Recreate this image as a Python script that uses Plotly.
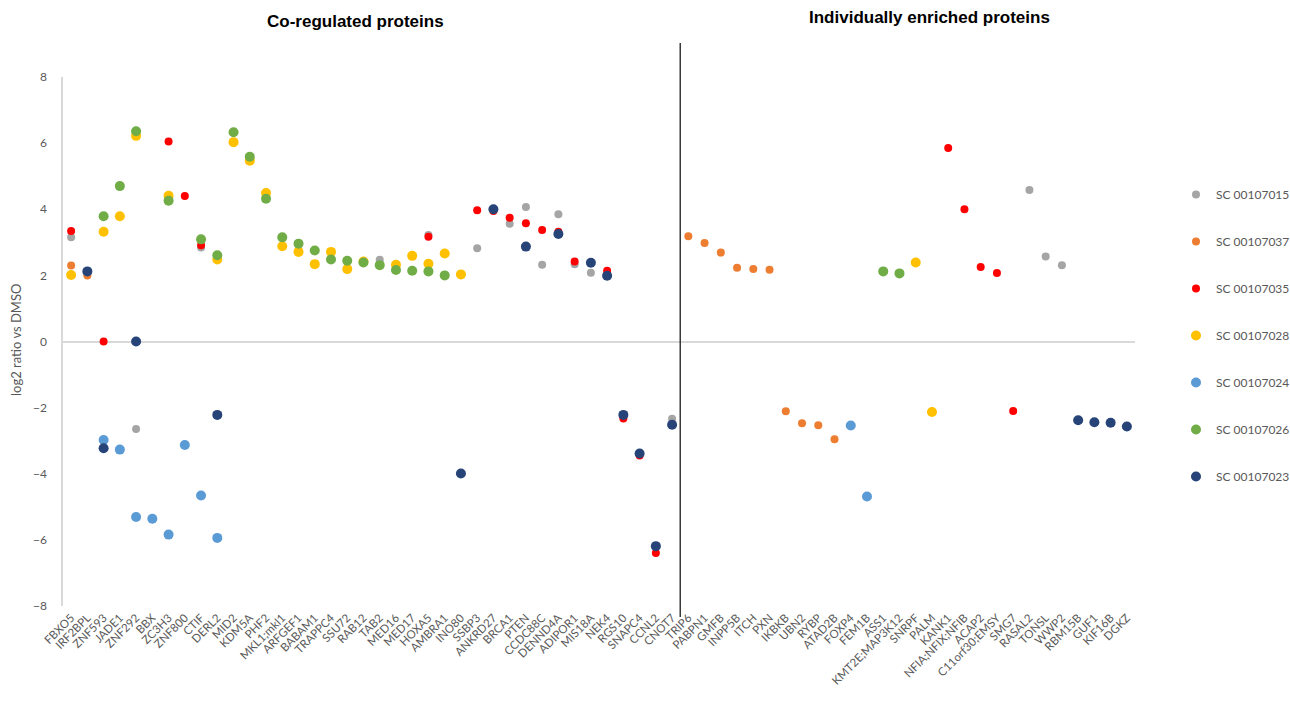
import plotly.graph_objects as go

# Protein order along the x axis
co_regulated = [
    "FBXO5", "IRF2BPL", "ZNF593", "JADE1", "ZNF292", "BBX", "ZC3H3", "ZNF800",
    "CTIF", "DERL2", "MID2", "KDM5A", "PHF2", "MKL1;mkl1", "ARFGEF1", "BABAM1",
    "TRAPPC4", "SSU72", "RAB12", "TAB2", "MED16", "MED17", "HOXA5", "AMBRA1",
    "INO80", "SSBP3", "ANKRD27", "BRCA1", "PTEN", "CCDC88C", "DENND4A",
    "ADIPOR1", "MIS18A", "NEK4", "RGS10", "SNAPC4", "CCNL2", "CNOT7",
]
individual = [
    "TRIP6", "PABPN1", "GMFB", "INPP5B", "ITCH", "PXN", "IKBKB", "UBN2", "RYBP",
    "ATAD2B", "FOXP4", "FEM1B", "ASS1", "KMT2E;MAP3K12", "SNRPF", "PALM",
    "KANK1", "NFIA;NFIX;NFIB", "ACAP2", "C11orf30;EMSY", "SMG7", "RASAL2",
    "TONSL", "WWP2", "RBM15B", "GUF1", "KIF16B", "DGKZ",
]
categories = co_regulated + individual

# log2 ratio vs DMSO per compound
sc015_prot = ["FBXO5", "ZNF292", "CTIF", "TAB2", "HOXA5", "SSBP3", "BRCA1", "PTEN",
              "CCDC88C", "DENND4A", "ADIPOR1", "MIS18A", "CNOT7", "RASAL2", "TONSL", "WWP2"]
sc015_val = [3.15, -2.65, 2.84, 2.47, 3.22, 2.82, 3.56, 4.07,
             2.32, 3.85, 2.34, 2.08, -2.34, 4.58, 2.57, 2.31]

sc037_prot = ["FBXO5", "IRF2BPL", "TRIP6", "PABPN1", "GMFB", "INPP5B", "ITCH", "PXN",
              "IKBKB", "UBN2", "RYBP", "ATAD2B"]
sc037_val = [2.30, 2.00, 3.18, 2.98, 2.69, 2.23, 2.19, 2.17,
             -2.11, -2.47, -2.53, -2.96]

sc035_prot = ["FBXO5", "ZNF593", "ZC3H3", "ZNF800", "CTIF", "HOXA5", "SSBP3", "ANKRD27",
              "BRCA1", "PTEN", "CCDC88C", "DENND4A", "ADIPOR1", "NEK4", "RGS10", "SNAPC4",
              "CCNL2", "KANK1", "NFIA;NFIX;NFIB", "ACAP2", "C11orf30;EMSY", "SMG7"]
sc035_val = [3.34, 0.0, 6.05, 4.40, 2.91, 3.17, 3.97, 3.95,
             3.74, 3.58, 3.37, 3.32, 2.42, 2.14, -2.33, -3.45,
             -6.40, 5.85, 4.00, 2.25, 2.07, -2.10]

sc028_prot = ["FBXO5", "ZNF593", "JADE1", "ZNF292", "ZC3H3", "DERL2", "MID2", "KDM5A",
              "PHF2", "MKL1;mkl1", "ARFGEF1", "BABAM1", "TRAPPC4", "SSU72", "RAB12",
              "MED16", "MED17", "HOXA5", "AMBRA1", "INO80", "SNRPF", "PALM"]
sc028_val = [2.01, 3.32, 3.79, 6.22, 4.41, 2.48, 6.03, 5.47,
             4.49, 2.88, 2.71, 2.34, 2.71, 2.19, 2.42,
             2.32, 2.59, 2.35, 2.66, 2.03, 2.39, -2.13]

sc024_prot = ["ZNF593", "JADE1", "ZNF292", "BBX", "ZC3H3", "ZNF800", "CTIF", "DERL2",
              "FOXP4", "FEM1B"]
sc024_val = [-2.98, -3.27, -5.31, -5.36, -5.84, -3.13, -4.66, -5.94,
             -2.54, -4.69]

sc026_prot = ["ZNF593", "JADE1", "ZNF292", "ZC3H3", "CTIF", "DERL2", "MID2", "KDM5A",
              "PHF2", "MKL1;mkl1", "ARFGEF1", "BABAM1", "TRAPPC4", "SSU72", "RAB12",
              "TAB2", "MED16", "MED17", "HOXA5", "AMBRA1", "ASS1", "KMT2E;MAP3K12"]
sc026_val = [3.79, 4.70, 6.36, 4.26, 3.09, 2.61, 6.33, 5.59,
             4.32, 3.15, 2.96, 2.75, 2.48, 2.44, 2.39,
             2.31, 2.16, 2.14, 2.12, 2.00, 2.12, 2.06]

sc023_prot = ["IRF2BPL", "ZNF593", "ZNF292", "DERL2", "INO80", "ANKRD27", "PTEN", "DENND4A",
              "MIS18A", "NEK4", "RGS10", "SNAPC4", "CCNL2", "CNOT7", "RBM15B", "GUF1",
              "KIF16B", "DGKZ"]
sc023_val = [2.12, -3.23, 0.0, -2.22, -3.99, 4.00, 2.87, 3.25,
             2.38, 1.99, -2.22, -3.39, -6.19, -2.52, -2.38, -2.44,
             -2.46, -2.57]

series = [
    ("SC 00107015", sc015_prot, sc015_val, "#A5A5A5", 8),
    ("SC 00107037", sc037_prot, sc037_val, "#ED7D31", 8),
    ("SC 00107035", sc035_prot, sc035_val, "#FF0000", 8),
    ("SC 00107028", sc028_prot, sc028_val, "#FFC000", 10),
    ("SC 00107024", sc024_prot, sc024_val, "#5B9BD5", 10),
    ("SC 00107026", sc026_prot, sc026_val, "#70AD47", 10),
    ("SC 00107023", sc023_prot, sc023_val, "#264478", 10),
]

fig = go.Figure()
for name, prot, val, color, size in series:
    fig.add_trace(go.Scatter(
        x=prot, y=val, mode="markers", name=name, legendgroup=name,
        marker=dict(color=color, size=size, line=dict(width=0)),
    ))

W, H = 1290, 722
ml, mr, mt, mb = 63, 155, 77, 116
ph = H - mt - mb
pw = W - ml - mr

fig.update_layout(
    width=W, height=H,
    margin=dict(l=ml, r=mr, t=mt, b=mb, autoexpand=False),
    paper_bgcolor="white", plot_bgcolor="white",
    font=dict(family="Lato, Liberation Sans, sans-serif", color="#595959", size=12),
    showlegend=True,
    legend=dict(
        x=(1176 - ml) / pw, xanchor="left",
        y=(H - mb - 180) / ph, yanchor="top",
        tracegroupgap=28, font=dict(size=12, color="#595959"),
        bgcolor="rgba(0,0,0,0)", itemsizing="trace",
    ),
    xaxis=dict(
        categoryorder="array", categoryarray=categories,
        range=[-0.5, len(categories) - 0.5],
        tickangle=-45, tickfont=dict(size=11.5, color="#595959"),
        showgrid=False, showline=False, zeroline=False, ticks="",
        ticklabelstandoff=2,
    ),
    yaxis=dict(
        range=[-8, 8], tickvals=[-8, -6, -4, -2, 0, 2, 4, 6, 8],
        showgrid=False, zeroline=True, zerolinecolor="#D9D9D9", zerolinewidth=1.5,
        showline=True, linecolor="#D9D9D9", linewidth=1.5, ticks="",
        tickfont=dict(size=12, color="#595959"), ticklabelstandoff=12,
    ),
)

# Divider between the two protein groups
fig.add_shape(
    type="line", xref="x", yref="paper",
    x0=len(co_regulated) - 0.5, x1=len(co_regulated) - 0.5,
    y0=(H - mb - 617) / ph, y1=(H - mb - 43) / ph,
    line=dict(color="#1a1a1a", width=1.3),
)

fig.add_annotation(
    text="<b>Co-regulated proteins</b>", xref="paper", yref="paper",
    x=(355 - ml) / pw, y=(H - mb - 22) / ph, xanchor="center", yanchor="middle",
    showarrow=False,
    font=dict(family="Liberation Sans, Arial, sans-serif", size=17, color="black"),
)
fig.add_annotation(
    text="<b>Individually enriched proteins</b>", xref="paper", yref="paper",
    x=(929 - ml) / pw, y=(H - mb - 17) / ph, xanchor="center", yanchor="middle",
    showarrow=False,
    font=dict(family="Liberation Sans, Arial, sans-serif", size=17, color="black"),
)
fig.add_annotation(
    text="log2 ratio vs DMSO", xref="paper", yref="paper",
    x=(16 - ml) / pw, y=(H - mb - 340) / ph, xanchor="center", yanchor="middle",
    showarrow=False, textangle=-90,
    font=dict(size=13, color="#595959"),
)

fig.write_html("out.html")
